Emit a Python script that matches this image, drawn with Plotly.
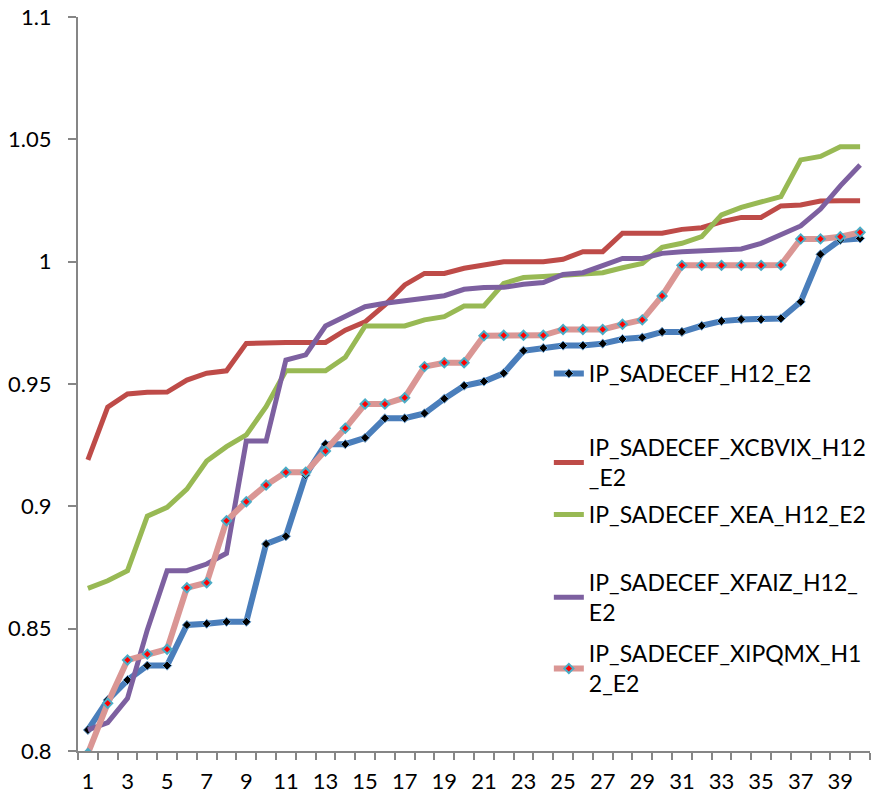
import plotly.graph_objects as go

# sorted values per series, 40 cases
cases = list(range(1, 41))

h12_e2 = [0.8086, 0.8208, 0.829, 0.8349, 0.8349, 0.8515, 0.852, 0.8528, 0.8528, 0.8846,
          0.8878, 0.9128, 0.9254, 0.9254, 0.928, 0.936, 0.936, 0.938, 0.944, 0.9493,
          0.951, 0.9544, 0.9636, 0.9647, 0.9657, 0.9657, 0.9665, 0.9684, 0.969, 0.9713,
          0.9713, 0.9738, 0.9757, 0.9764, 0.9764, 0.9768, 0.9836, 1.003, 1.0089, 1.0095]

xcbvix = [0.919, 0.9405, 0.9459, 0.9466, 0.9467, 0.9516, 0.9544, 0.9554, 0.9666, 0.967,
          0.967, 0.967, 0.967, 0.972, 0.9754, 0.9823, 0.9905, 0.9952, 0.9952, 0.9973,
          0.9984, 1.0, 1.0, 1.0, 1.001, 1.0041, 1.0041, 1.0116, 1.0116, 1.0116,
          1.0132, 1.0139, 1.0163, 1.0181, 1.0181, 1.0228, 1.0232, 1.0248, 1.0249, 1.0249]

xea = [0.8665, 0.8696, 0.8737, 0.896, 0.8996, 0.907, 0.9185, 0.9244, 0.9292, 0.9407,
       0.9554, 0.9554, 0.9554, 0.9609, 0.9737, 0.9737, 0.9737, 0.9762, 0.9775, 0.9819,
       0.9819, 0.9911, 0.9935, 0.9939, 0.9943, 0.9948, 0.9955, 0.9975, 0.9993, 1.0059,
       1.0075, 1.0102, 1.0191, 1.0222, 1.0245, 1.0266, 1.0416, 1.043, 1.047, 1.047]

xfaiz = [0.8086, 0.8116, 0.8215, 0.8495, 0.8737, 0.8737, 0.8764, 0.8808, 0.9267, 0.9267,
         0.9598, 0.9619, 0.9737, 0.9775, 0.9816, 0.983, 0.984, 0.9853, 0.9861, 0.9887,
         0.9894, 0.9895, 0.9908, 0.9915, 0.9948, 0.9955, 0.9986, 1.0013, 1.0013, 1.0034,
         1.0041, 1.0045, 1.0052, 1.0052, 1.0075, 1.0109, 1.0146, 1.0215, 1.031, 1.0395]

xipqmx = [0.799, 0.8195, 0.8372, 0.8396, 0.8416, 0.8667, 0.8688, 0.8941, 0.9019, 0.9087,
          0.9139, 0.9139, 0.9226, 0.9319, 0.9418, 0.9418, 0.9444, 0.9571, 0.9587, 0.9587,
          0.9697, 0.9699, 0.9699, 0.9699, 0.9723, 0.9723, 0.9723, 0.9744, 0.9762, 0.986,
          0.9985, 0.9985, 0.9985, 0.9985, 0.9985, 0.9986, 1.0093, 1.0093, 1.0102, 1.012]

odd_ticks = [c for c in cases if c % 2 == 1]

names = ["IP_SADECEF_H12_E2",
         "IP_SADECEF_XCBVIX_H12<br>_E2",
         "IP_SADECEF_XEA_H12_E2",
         "IP_SADECEF_XFAIZ_H12_<br>E2",
         "IP_SADECEF_XIPQMX_H1<br>2_E2"]

fig = go.Figure()

fig.add_trace(go.Scatter(x=cases, y=h12_e2, mode="lines+markers", name=names[0], legend="legend",
                         line=dict(color="#4A7EBB", width=6),
                         marker=dict(symbol="diamond", size=7, color="black",
                                     line=dict(color="#6FA8DC", width=1))))
fig.add_trace(go.Scatter(x=cases, y=xcbvix, mode="lines", name=names[1], legend="legend2",
                         line=dict(color="#BE4B48", width=5)))
fig.add_trace(go.Scatter(x=cases, y=xea, mode="lines", name=names[2], legend="legend3",
                         line=dict(color="#98B954", width=5)))
fig.add_trace(go.Scatter(x=cases, y=xfaiz, mode="lines", name=names[3], legend="legend4",
                         line=dict(color="#7D60A0", width=5)))
fig.add_trace(go.Scatter(x=cases, y=xipqmx, mode="lines+markers", name=names[4], legend="legend5",
                         line=dict(color="#DA9694", width=6),
                         marker=dict(symbol="diamond", size=7, color="red",
                                     line=dict(color="#4BACC6", width=2))))

# one legend box per series so the entries sit evenly like the excel legend
leg = dict(x=0.5945, xanchor="left", yanchor="top", bgcolor="rgba(0,0,0,0)",
           font=dict(size=23))

fig.update_layout(
    width=873, height=799,
    margin=dict(l=78, r=1, t=17, b=48),
    plot_bgcolor="white", paper_bgcolor="white",
    font=dict(family="Lato", size=22, color="black"),
    showlegend=True,
    legend=dict(leg, y=0.5436),
    legend2=dict(leg, y=0.4428),
    legend3=dict(leg, y=0.3515),
    legend4=dict(leg, y=0.2589),
    legend5=dict(leg, y=0.1621),
)
fig.update_xaxes(range=[0.5, 40.5], tickvals=odd_ticks, ticks="", showgrid=False, zeroline=False,
                 showline=True, linecolor="#868686", linewidth=2, automargin=False,
                 ticklabelstandoff=10, ticklabeloverflow="allow",
                 minor=dict(tick0=0.5, dtick=1, ticks="outside", ticklen=7,
                            tickcolor="#868686", tickwidth=2, showgrid=False))
fig.update_yaxes(range=[0.8, 1.1], dtick=0.05, ticks="outside", ticklen=8, tickcolor="#868686",
                 tickwidth=2, showgrid=False, zeroline=False, automargin=False,
                 ticklabelstandoff=12, ticklabeloverflow="allow",
                 showline=True, linecolor="#868686", linewidth=2)

# drop the default 8px body margin so the figure fills the window exactly
fig.write_html("out.html", config={"displayModeBar": False},
               post_script="document.body.style.margin = '0';")
